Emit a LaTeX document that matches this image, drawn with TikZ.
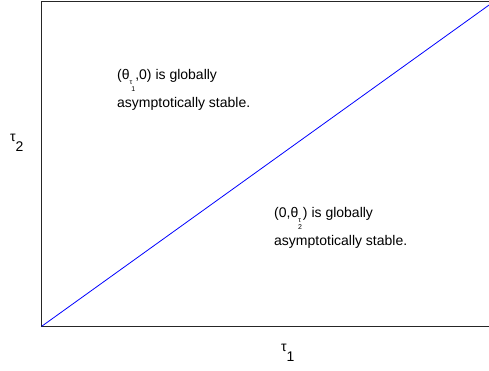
\documentclass[tikz,border=0pt]{standalone}
\usepackage{fontspec}
\setmainfont{Liberation Sans}
\usetikzlibrary{positioning}
% lowered small text for sub- and subsubscripts
\newcommand{\dn}[3]{\raisebox{-#1pt}{\fontsize{#2}{#2}\selectfont #3}}

\begin{document}
\begin{tikzpicture}[x=1pt, y=1pt,
    lbl/.style={font=\fontsize{14}{28}\selectfont, inner sep=0pt,
                anchor=base west, align=left},
    axlbl/.style={font=\fontsize{14}{14}\selectfont, inner sep=0pt,
                  anchor=base west}]
    \useasboundingbox (0,0) rectangle (489,371);
    \clip (0,0) rectangle (489,371);
    % --- Axes frame (right side lies outside the picture) ---
    \coordinate (O) at (41.7,44.7);
    \coordinate (TL) at (41.7,369.8);
    \coordinate (BR) at (496,44.7);
    \coordinate (TR) at (496,369.8);
    \draw[line width=1.1pt, black!85] (TR) -- (TL) -- (O) -- (BR);
    % --- Stability boundary ---
    \coordinate (E) at (494.4,369.8);
    \draw[blue, line width=0.8pt] (O) -- (E);
    % --- Axis labels ---
    \node[axlbl] (xlab) at (281,19) {τ\dn{10}{14}{1}};
    \node[axlbl] (ylab) at (10,229) {τ\dn{10}{14}{2}};
    % --- Region labels ---
    \node[lbl] (upper) at (117,263)
      {(θ\dn{5}{7}{τ}\hspace{-1pt}\dn{12}{7}{1},0) is globally\\asymptotically stable.};
    \node[lbl] (lower) at (274,125)
      {(0,θ\dn{5}{7}{τ}\hspace{-3pt}\dn{12}{7}{2}\hspace{1pt}) is globally\\asymptotically stable.};
\end{tikzpicture}
\end{document}
